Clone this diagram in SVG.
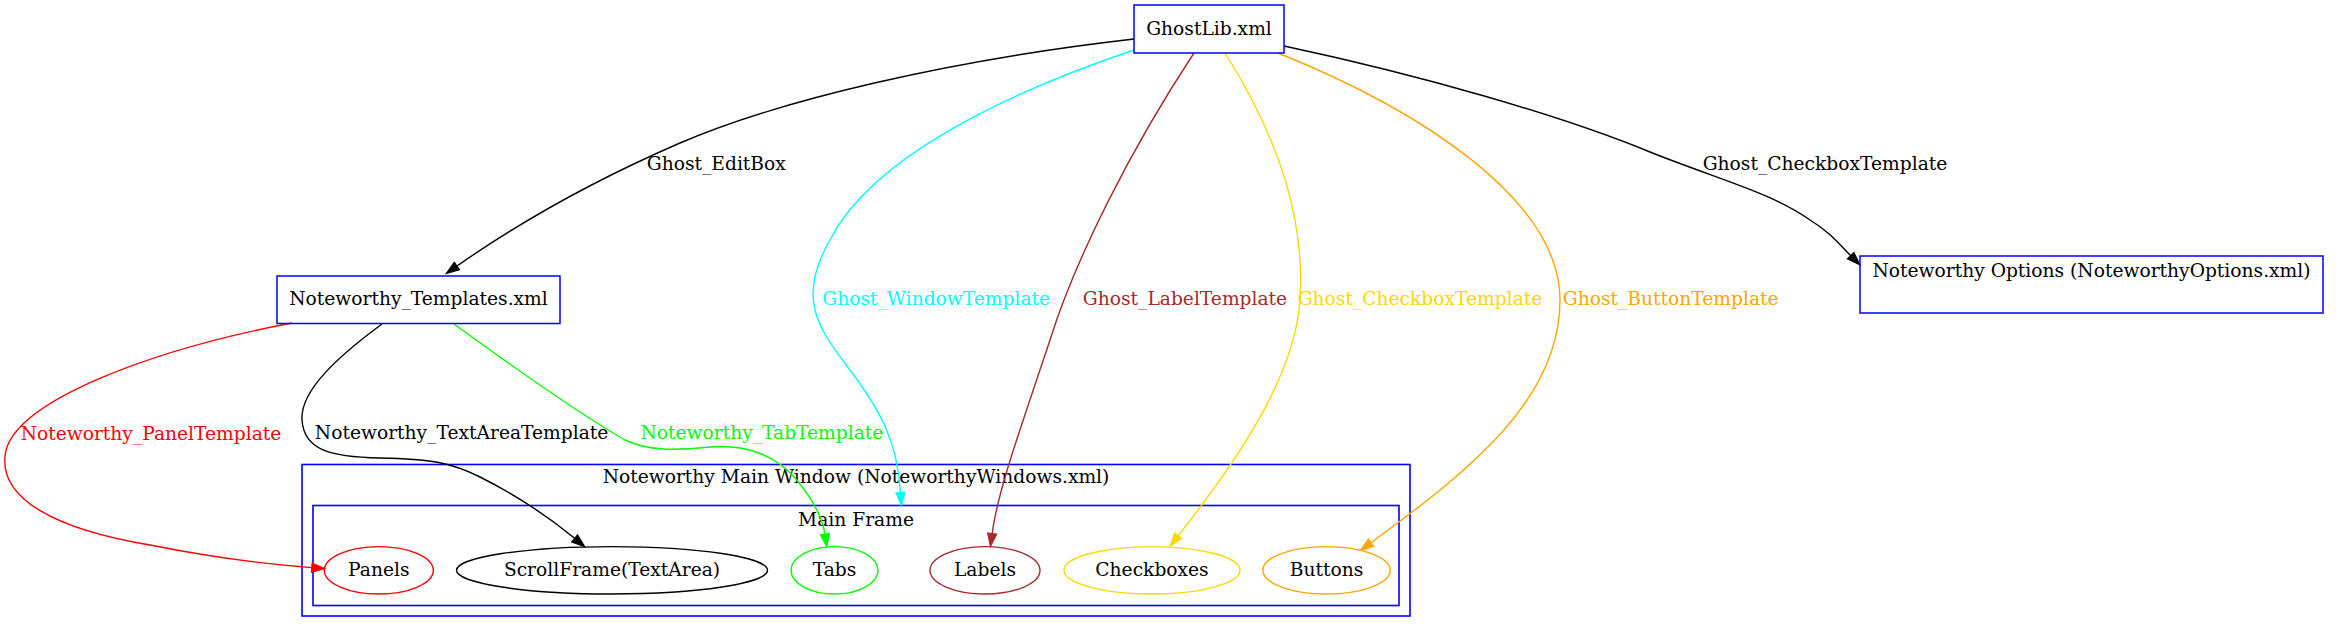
<svg xmlns="http://www.w3.org/2000/svg" width="2339" height="632" viewBox="0 0 2339 632">
<style>
text{font-family:"DejaVu Serif","Liberation Serif",serif;font-size:18.67px;text-anchor:middle}
.box{fill:none;stroke:#0000ff;stroke-width:1.5}
.cl{fill:none;stroke:#0000ff;stroke-width:1.6}
.e{fill:none;stroke-width:1.4}
.ell{fill:none;stroke-width:1.4}
</style>
<defs>
<marker id="aK" markerUnits="userSpaceOnUse" markerWidth="16" markerHeight="12" refX="0" refY="5" orient="auto" overflow="visible"><path d="M0,0.3 L13.3,5 L0,9.7 z" fill="#000" stroke="#000"/></marker>
<marker id="aR" markerUnits="userSpaceOnUse" markerWidth="16" markerHeight="12" refX="0" refY="5" orient="auto" overflow="visible"><path d="M0,0.3 L13.3,5 L0,9.7 z" fill="#ff0000" stroke="#ff0000"/></marker>
<marker id="aG" markerUnits="userSpaceOnUse" markerWidth="16" markerHeight="12" refX="0" refY="5" orient="auto" overflow="visible"><path d="M0,0.3 L13.3,5 L0,9.7 z" fill="#00ff00" stroke="#00ff00"/></marker>
<marker id="aC" markerUnits="userSpaceOnUse" markerWidth="16" markerHeight="12" refX="0" refY="5" orient="auto" overflow="visible"><path d="M0,0.3 L13.3,5 L0,9.7 z" fill="#00ffff" stroke="#00ffff"/></marker>
<marker id="aB" markerUnits="userSpaceOnUse" markerWidth="16" markerHeight="12" refX="0" refY="5" orient="auto" overflow="visible"><path d="M0,0.3 L13.3,5 L0,9.7 z" fill="#a52a2a" stroke="#a52a2a"/></marker>
<marker id="aY" markerUnits="userSpaceOnUse" markerWidth="16" markerHeight="12" refX="0" refY="5" orient="auto" overflow="visible"><path d="M0,0.3 L13.3,5 L0,9.7 z" fill="#ffd700" stroke="#ffd700"/></marker>
<marker id="aO" markerUnits="userSpaceOnUse" markerWidth="16" markerHeight="12" refX="0" refY="5" orient="auto" overflow="visible"><path d="M0,0.3 L13.3,5 L0,9.7 z" fill="#ffa500" stroke="#ffa500"/></marker>
</defs>
<rect width="2339" height="632" fill="#fff"/>

<g id="cluster_main">
<rect class="cl" x="302" y="464.5" width="1108" height="151.5"/>
<text x="856" y="483.3">Noteworthy Main Window (NoteworthyWindows.xml)</text>
</g>
<g id="cluster_frame">
<rect class="cl" x="313" y="505.5" width="1086" height="100"/>
<text x="856" y="525.7">Main Frame</text>
</g>

<g id="connectors">
<path class="e" stroke="#000" marker-end="url(#aK)" d="M1134,39 C950,60 780,100 680,143 C590,182 520,222 457,266"/>
<text x="716.3" y="170">Ghost_EditBox</text>
<path class="e" stroke="#000" marker-end="url(#aK)" d="M1284,46 C1420,75 1560,115 1650,152 C1720,180 1770,192 1810,220 C1830,232 1840,245 1850.6,255.6"/>
<text x="1825" y="170">Ghost_CheckboxTemplate</text>
<path class="e" stroke="#00ffff" marker-end="url(#aC)" d="M1134,50 C1000,95 870,160 830,240 C795,300 820,330 850,370 C880,410 897,440 900.5,492.4"/>
<text x="936.2" y="305" fill="#00ffff">Ghost_WindowTemplate</text>
<path class="e" stroke="#a52a2a" marker-end="url(#aB)" d="M1194,53 C1130,150 1075,260 1050,340 C1020,430 998,490 992.2,533.5"/>
<text x="1185" y="305" fill="#a52a2a">Ghost_LabelTemplate</text>
<path class="e" stroke="#ffd700" marker-end="url(#aY)" d="M1225,53 C1280,140 1305,220 1300,300 C1295,380 1230,470 1178.3,535.7"/>
<text x="1420" y="305" fill="#ffd700">Ghost_CheckboxTemplate</text>
<path class="e" stroke="#ffa500" marker-end="url(#aO)" d="M1278,53 C1420,110 1560,200 1560,300 C1560,400 1470,470 1371,542.7"/>
<text x="1670.7" y="305" fill="#ffa500">Ghost_ButtonTemplate</text>
<path class="e" stroke="#ff0000" marker-end="url(#aR)" d="M292,323 C150,350 20,400 6,450 C-5,500 60,530 150,545 C200,555 250,563 311.7,567.6"/>
<text x="151" y="440" fill="#ff0000">Noteworthy_PanelTemplate</text>
<path class="e" stroke="#000" marker-end="url(#aK)" d="M382,324 C340,355 300,390 302,420 C304,450 330,457 380,458 C430,459 450,462 480,477 C520,497 550,518 574.6,538.3"/>
<text x="461.6" y="439.3">Noteworthy_TextAreaTemplate</text>
<path class="e" stroke="#00ff00" marker-end="url(#aG)" d="M454,324 C520,372 590,420 625,440 C650,452 680,450 710,447 C745,444 775,455 795,478 C812,498 822,515 824.9,534.1"/>
<text x="761.9" y="439.3" fill="#00ff00">Noteworthy_TabTemplate</text>
</g>

<g id="GhostLib">
<rect class="box" x="1134" y="5" width="150" height="48"/>
<text x="1209" y="34.5">GhostLib.xml</text>
</g>
<g id="Templates">
<rect class="box" x="277" y="276" width="283" height="47.5"/>
<text x="418.5" y="305">Noteworthy_Templates.xml</text>
</g>
<g id="Options">
<rect class="box" x="1860" y="256" width="463" height="57"/>
<text x="2091.5" y="276.7">Noteworthy Options (NoteworthyOptions.xml)</text>
</g>
<g id="Panels">
<ellipse class="ell" stroke="#ff0000" cx="378.8" cy="570.3" rx="54.5" ry="23.7"/>
<text x="378.8" y="576">Panels</text>
</g>
<g id="ScrollFrame">
<ellipse class="ell" stroke="#000" cx="612" cy="570.3" rx="155.5" ry="23.7"/>
<text x="612" y="576">ScrollFrame(TextArea)</text>
</g>
<g id="Tabs">
<ellipse class="ell" stroke="#00ff00" cx="834.5" cy="570.3" rx="43.5" ry="23.7"/>
<text x="834.5" y="576">Tabs</text>
</g>
<g id="Labels">
<ellipse class="ell" stroke="#a52a2a" cx="985" cy="570.3" rx="55" ry="23.7"/>
<text x="985" y="576">Labels</text>
</g>
<g id="Checkboxes">
<ellipse class="ell" stroke="#ffd700" cx="1152" cy="570.3" rx="88" ry="23.7"/>
<text x="1152" y="576">Checkboxes</text>
</g>
<g id="Buttons">
<ellipse class="ell" stroke="#ffa500" cx="1326.5" cy="570.3" rx="63.7" ry="23.7"/>
<text x="1326.5" y="576">Buttons</text>
</g>
</svg>
